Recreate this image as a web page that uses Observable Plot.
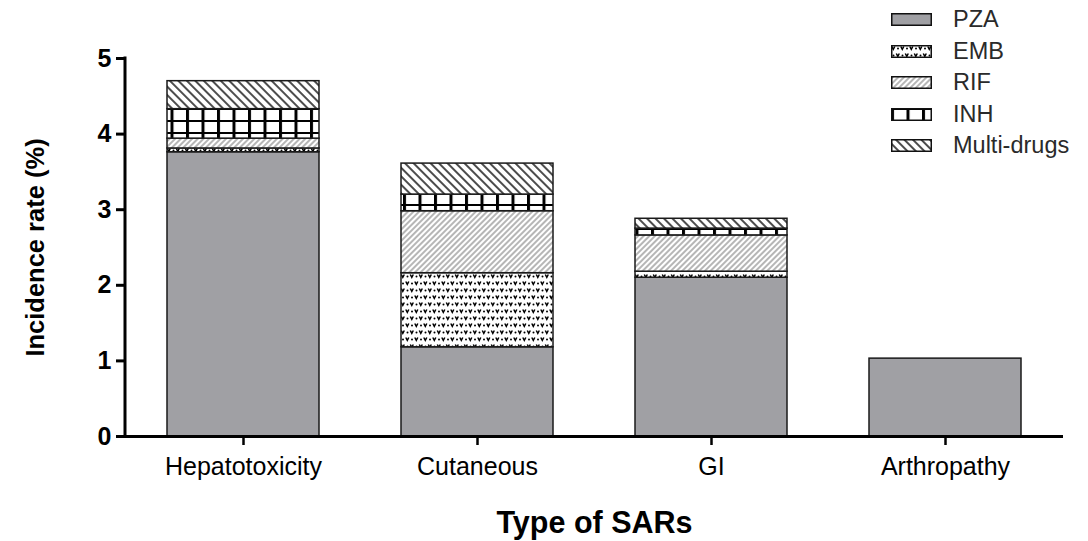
<!DOCTYPE html>
<html><head><meta charset="utf-8">
<script src="https://cdn.jsdelivr.net/npm/d3@7"></script>
<script src="https://cdn.jsdelivr.net/npm/@observablehq/plot@0.6"></script>
<style>
body{margin:0;background:#fff;}
#wrap{position:relative;width:1088px;height:541px;}
#legend{position:absolute;left:891px;top:4px;font-family:"Liberation Sans",Arial,sans-serif;font-size:23.5px;color:#2a2a2a;}
.row{height:31.5px;display:flex;align-items:center;}
.row svg{margin-right:21px;flex:none;}
</style></head><body>
<svg width="0" height="0" style="position:absolute"><defs>
<pattern id="p-emb" patternUnits="userSpaceOnUse" width="9" height="14">
<rect width="9" height="14" fill="#fff"/>
<path d="M0.8,1.5 L2.3,4.3 L3.8,1.5 M5.3,8.5 L6.8,11.3 L8.3,8.5" stroke="#000" stroke-width="1.5" fill="none"/>
<circle cx="7" cy="3.5" r="1" fill="#000"/><circle cx="2.5" cy="10.5" r="1" fill="#000"/>
</pattern>
<pattern id="p-rif" patternUnits="userSpaceOnUse" width="4" height="4" patternTransform="rotate(45)">
<rect width="4" height="4" fill="#fff"/>
<line x1="2" y1="0" x2="2" y2="4" stroke="#7a7a7a" stroke-width="1.1"/>
</pattern>
<pattern id="p-multi" patternUnits="userSpaceOnUse" width="6" height="6" patternTransform="rotate(-45)">
<rect width="6" height="6" fill="#fff"/>
<line x1="3" y1="0" x2="3" y2="6" stroke="#111" stroke-width="1.5"/>
</pattern>
<pattern id="p-inh" patternUnits="userSpaceOnUse" width="15.5" height="12">
<rect width="15.5" height="12" fill="#000"/>
<rect x="3" y="2" width="12.5" height="10" fill="#fff"/>
</pattern>
</defs></svg>
<div id="wrap"><div id="legend"></div></div>
<script>
const categories = ["Hepatotoxicity", "Cutaneous", "GI", "Arthropathy"];
const drugs = ["PZA", "EMB", "RIF", "INH", "Multi-drugs"];
const PZA   = [3.76, 1.18, 2.10, 1.03];
const EMB   = [0.05, 0.98, 0.08, 0];
const RIF   = [0.13, 0.82, 0.48, 0];
const INH   = [0.39, 0.22, 0.09, 0];
const MULTI = [0.37, 0.41, 0.13, 0];
const yTicks = [0, 1, 2, 3, 4, 5];
const fills = ["#a0a0a4", "url(#p-emb)", "url(#p-rif)", "url(#p-inh)", "url(#p-multi)"];

const series = [PZA, EMB, RIF, INH, MULTI];
const data = [];
categories.forEach((c, i) => {
  series.forEach((arr, j) => {
    if (arr[i] > 0) data.push({category: c, drug: drugs[j], value: arr[i]});
  });
});

const plot = Plot.plot({
  width: 1088, height: 541,
  marginTop: 58, marginBottom: 105, marginLeft: 125, marginRight: 25,
  style: {fontFamily: '"Liberation Sans", Arial, sans-serif', background: "#fff", color: "#000"},
  x: {domain: categories, paddingInner: 0.35, paddingOuter: 0.175},
  y: {domain: [0, 5]},
  color: {type: "ordinal", domain: drugs, range: fills},
  marks: [
    Plot.barY(data, {x: "category", y: "value", fill: "drug", order: drugs, stroke: "#1a1a1a", strokeWidth: 1.5}),
    Plot.ruleY([0], {stroke: "#000", strokeWidth: 3}),
    Plot.axisY({ticks: yTicks, tickSize: 9, tickPadding: 5, tickFormat: d => String(d), strokeWidth: 3, fontSize: 25, fontWeight: "bold", label: null}),
    Plot.axisY({ticks: [], label: "Incidence rate (%)", labelAnchor: "center", labelOffset: 100, labelArrow: "none", fontSize: 25.5, fontWeight: "bold"}),
    Plot.axisX({tickSize: 9, tickPadding: 12, strokeWidth: 2.5, fontSize: 25, label: null}),
    Plot.axisX({ticks: [], label: "Type of SARs", labelAnchor: "center", labelOffset: 96, fontSize: 30.5, fontWeight: "bold"})
  ]
});
document.getElementById("wrap").appendChild(plot);

// y axis line drawn from the y scale
const ys = plot.scale("y");
d3.select(plot).append("line")
  .attr("x1", 125).attr("x2", 125)
  .attr("y1", ys.apply(0)).attr("y2", ys.apply(5))
  .attr("stroke", "#000").attr("stroke-width", 3).attr("stroke-linecap", "square");

// legend
const legend = d3.select("#legend");
drugs.forEach((d, i) => {
  const row = legend.append("div").attr("class", "row");
  const s = row.append("svg").attr("width", 41).attr("height", 13);
  s.append("rect").attr("x", 0.75).attr("y", 0.75).attr("width", 39.5).attr("height", 11.5)
    .attr("fill", fills[i]).attr("stroke", "#111").attr("stroke-width", 1.5);
  row.append("span").text(d);
});
</script>
</body></html>
